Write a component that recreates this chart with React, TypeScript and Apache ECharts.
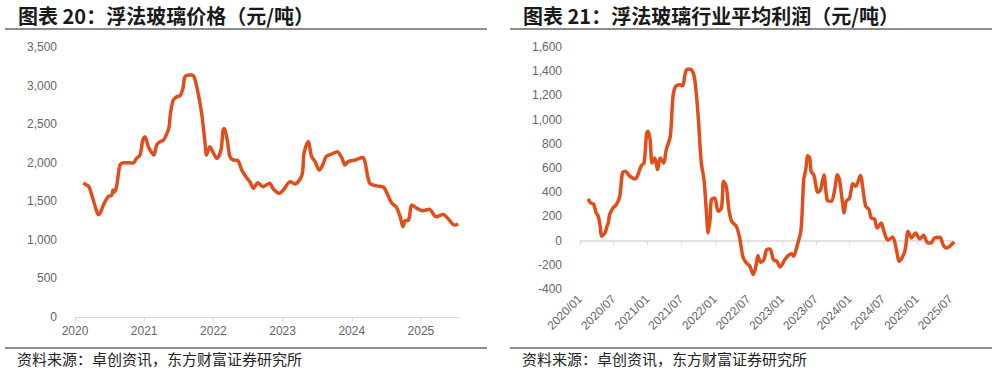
import React, { useEffect, useRef } from "react";
import * as echarts from "echarts";

const leftTitle = "图表 20：浮法玻璃价格（元/吨）";
const rightTitle = "图表 21：浮法玻璃行业平均利润（元/吨）";
const sourceText = "资料来源：卓创资讯，东方财富证券研究所";

// Float glass price (yuan/ton), x in decimal years
const priceX = [
  2020.12, 2020.16, 2020.2, 2020.25, 2020.31, 2020.34, 2020.38, 2020.41, 2020.48, 2020.53,
  2020.55, 2020.57, 2020.6, 2020.65, 2020.7, 2020.78, 2020.84, 2020.89, 2020.94, 2020.98,
  2021.01, 2021.06, 2021.1, 2021.14, 2021.18, 2021.23, 2021.28, 2021.33, 2021.36, 2021.38,
  2021.42, 2021.47, 2021.52, 2021.56, 2021.59, 2021.66, 2021.71, 2021.76, 2021.83, 2021.88,
  2021.9, 2021.95, 2021.99, 2022.05, 2022.11, 2022.14, 2022.16, 2022.2, 2022.24, 2022.29,
  2022.35, 2022.41, 2022.46, 2022.53, 2022.58, 2022.64, 2022.72, 2022.81, 2022.87, 2022.95,
  2023.01, 2023.11, 2023.18, 2023.28, 2023.31, 2023.37, 2023.42, 2023.47, 2023.53, 2023.58,
  2023.63, 2023.71, 2023.79, 2023.86, 2023.9, 2023.95, 2024.05, 2024.16, 2024.19, 2024.26,
  2024.36, 2024.46, 2024.51, 2024.58, 2024.64, 2024.7, 2024.74, 2024.77, 2024.82, 2024.87,
  2024.94, 2025.03, 2025.12, 2025.22, 2025.32, 2025.41, 2025.48, 2025.54,
];
const priceY = [
  1735, 1715, 1690, 1560, 1380, 1325, 1380, 1452, 1560, 1580,
  1646, 1620, 1689, 1970, 2000, 2000, 1995, 2057, 2100, 2294,
  2337, 2207, 2143, 2100, 2230, 2273, 2294, 2381, 2467, 2640,
  2813, 2856, 2870, 2964, 3115, 3137, 3130, 2985, 2640, 2252,
  2100, 2207, 2143, 2057, 2165, 2424, 2445, 2294, 2077, 2035,
  2030, 1906, 1830, 1750, 1668, 1741, 1689, 1733, 1655, 1603,
  1646, 1754, 1725, 1841, 2122, 2273, 2078, 2014, 1906, 1970,
  2078, 2113, 2143, 2057, 1970, 2014, 2035, 2066, 2014, 1733,
  1700, 1682, 1603, 1474, 1430, 1300, 1171, 1248, 1257, 1452,
  1409, 1378, 1396, 1300, 1330, 1257, 1192, 1205,
];

// Float glass industry average profit (yuan/ton)
const profitX = [
  2020.12, 2020.16, 2020.2, 2020.24, 2020.27, 2020.3, 2020.32, 2020.37, 2020.4, 2020.42,
  2020.44, 2020.49, 2020.54, 2020.59, 2020.63, 2020.67, 2020.74, 2020.82, 2020.86, 2020.91,
  2020.95, 2020.99, 2021.01, 2021.04, 2021.07, 2021.11, 2021.15, 2021.19, 2021.24, 2021.28,
  2021.34, 2021.38, 2021.42, 2021.48, 2021.52, 2021.57, 2021.61, 2021.66, 2021.7, 2021.75,
  2021.8, 2021.84, 2021.88, 2021.9, 2021.93, 2021.95, 2022.0, 2022.05, 2022.1, 2022.13,
  2022.17, 2022.21, 2022.25, 2022.32, 2022.37, 2022.42, 2022.47, 2022.52, 2022.57, 2022.61,
  2022.64, 2022.68, 2022.73, 2022.77, 2022.82, 2022.87, 2022.92, 2022.97, 2023.04, 2023.09,
  2023.14, 2023.17, 2023.22, 2023.28, 2023.32, 2023.35, 2023.38, 2023.41, 2023.43, 2023.47,
  2023.53, 2023.57, 2023.62, 2023.67, 2023.73, 2023.78, 2023.82, 2023.85, 2023.89, 2023.92,
  2023.95, 2024.0, 2024.05, 2024.09, 2024.16, 2024.2, 2024.24, 2024.29, 2024.32, 2024.37,
  2024.41, 2024.47, 2024.51, 2024.57, 2024.64, 2024.69, 2024.74, 2024.82, 2024.87, 2024.92,
  2024.98, 2025.04, 2025.1, 2025.16, 2025.21, 2025.26, 2025.34, 2025.39, 2025.44, 2025.5,
  2025.55,
];
const profitY = [
  345, 311, 303, 229, 202, 118, 36, 63, 118, 146,
  215, 270, 298, 366, 559, 573, 532, 510, 546, 620,
  642, 890, 904, 835, 642, 683, 587, 683, 642, 752,
  862, 1193, 1275, 1289, 1280, 1399, 1418, 1408, 1344, 1055,
  642, 504, 202, 63, 174, 339, 352, 242, 270, 490,
  449, 256, 160, 118, 20, -140, -185, -212, -281, -212,
  -124, -179, -157, -74, -69, -157, -171, -218, -157, -124,
  -108, -129, -47, 91, 504, 587, 702, 680, 570, 542,
  399, 421, 542, 333, 325, 421, 545, 504, 339, 229,
  325, 352, 469, 449, 537, 421, 284, 256, 187, 179,
  105, 146, 77, 3, 30, -61, -171, -88, 77, 22,
  63, 14, 44, -19, -19, 22, 28, -36, -61, -41,
  -10,
];

const LINE_COLOR = "#E04E1B";
const AXIS_COLOR = "#d9d9d9";
const LABEL_COLOR = "#666666";

function fmtNum(v: number): string {
  return v.toLocaleString("en-US");
}

function yearLabel(v: number): string {
  if (Math.abs(v - Math.round(v)) > 1e-6) return "";
  return String(Math.round(v));
}

function halfYearLabel(v: number): string {
  const h = v * 2;
  if (Math.abs(h - Math.round(h)) > 1e-6) return "";
  const y = Math.floor(v + 1e-6);
  const m = v - y < 0.25 ? "01" : "07";
  return y + "/" + m;
}

export default function App() {
  const ref = useRef<HTMLDivElement>(null);

  useEffect(() => {
    if (!ref.current) return;
    const chart = echarts.init(ref.current, null, { renderer: "svg" });
    const priceData = priceX.map((x, i) => [x, priceY[i]]);
    const profitData = profitX.map((x, i) => [x, profitY[i]]);
    const labelFont = "Liberation Sans";

    chart.setOption({
      animation: false,
      backgroundColor: "#ffffff",
      grid: [
        { left: 75, top: 47, width: 384, height: 270 },
        { left: 580, top: 47, width: 374, height: 242 },
      ],
      xAxis: [
        {
          gridIndex: 0,
          type: "value",
          min: 2020,
          max: 2025.55,
          interval: 1,
          position: "bottom",
          splitLine: { show: false },
          axisLine: { show: true, lineStyle: { color: AXIS_COLOR, width: 1 } },
          axisTick: { show: true, length: 4, lineStyle: { color: AXIS_COLOR } },
          axisLabel: {
            color: LABEL_COLOR,
            fontSize: 12,
            fontFamily: labelFont,
            margin: 8,
            showMaxLabel: false,
            formatter: yearLabel,
          },
        },
        {
          gridIndex: 1,
          type: "value",
          min: 2020,
          max: 2025.55,
          interval: 0.5,
          position: "bottom",
          splitLine: { show: false },
          axisLine: { show: true, onZero: true, lineStyle: { color: AXIS_COLOR, width: 1.5 } },
          axisTick: { show: true, length: 4, lineStyle: { color: AXIS_COLOR } },
          axisLabel: { show: false },
        },
        {
          gridIndex: 1,
          type: "value",
          min: 2020,
          max: 2025.55,
          interval: 0.5,
          position: "bottom",
          splitLine: { show: false },
          axisLine: { show: false, onZero: false },
          axisTick: { show: false },
          axisLabel: {
            color: LABEL_COLOR,
            fontSize: 12,
            fontFamily: labelFont,
            rotate: 45,
            margin: 8,
            showMaxLabel: false,
            formatter: halfYearLabel,
          },
        },
      ],
      yAxis: [
        {
          gridIndex: 0,
          type: "value",
          min: 0,
          max: 3500,
          interval: 500,
          splitLine: { show: false },
          axisLine: { show: false },
          axisTick: { show: false },
          axisLabel: {
            color: LABEL_COLOR,
            fontSize: 12,
            fontFamily: labelFont,
            margin: 18,
            formatter: fmtNum,
          },
        },
        {
          gridIndex: 1,
          type: "value",
          min: -400,
          max: 1600,
          interval: 200,
          splitLine: { show: false },
          axisLine: { show: false },
          axisTick: { show: false },
          axisLabel: {
            color: LABEL_COLOR,
            fontSize: 12,
            fontFamily: labelFont,
            margin: 18,
            formatter: fmtNum,
          },
        },
      ],
      series: [
        {
          type: "line",
          xAxisIndex: 0,
          yAxisIndex: 0,
          data: priceData,
          showSymbol: false,
          smooth: 0.3,
          lineStyle: { color: LINE_COLOR, width: 3.5 },
          itemStyle: { color: LINE_COLOR },
        },
        {
          type: "line",
          xAxisIndex: 1,
          yAxisIndex: 1,
          data: profitData,
          showSymbol: false,
          smooth: 0.3,
          lineStyle: { color: LINE_COLOR, width: 3.5 },
          itemStyle: { color: LINE_COLOR },
        },
      ],
      graphic: [
        {
          type: "text",
          left: 18,
          top: 5,
          style: {
            text: leftTitle,
            font: 'bold 20px "Noto Sans CJK SC"',
            fill: "#1a1a1a",
          },
        },
        {
          type: "text",
          left: 523,
          top: 5,
          style: {
            text: rightTitle,
            font: 'bold 20px "Noto Sans CJK SC"',
            fill: "#1a1a1a",
          },
        },
        {
          type: "line",
          shape: { x1: 5, y1: 29, x2: 487, y2: 29 },
          style: { stroke: "#8c8c8c", lineWidth: 2 },
        },
        {
          type: "line",
          shape: { x1: 510, y1: 29, x2: 992, y2: 29 },
          style: { stroke: "#8c8c8c", lineWidth: 2 },
        },
        {
          type: "line",
          shape: { x1: 5, y1: 348, x2: 487, y2: 348 },
          style: { stroke: "#8c8c8c", lineWidth: 2 },
        },
        {
          type: "line",
          shape: { x1: 510, y1: 348, x2: 992, y2: 348 },
          style: { stroke: "#8c8c8c", lineWidth: 2 },
        },
        {
          type: "text",
          left: 17,
          top: 351,
          style: {
            text: sourceText,
            font: '15px "Noto Sans CJK SC"',
            fill: "#222222",
          },
        },
        {
          type: "text",
          left: 522,
          top: 351,
          style: {
            text: sourceText,
            font: '15px "Noto Sans CJK SC"',
            fill: "#222222",
          },
        },
      ],
    });

    return () => {
      chart.dispose();
    };
  }, []);

  return (
    <div
      ref={ref}
      style={{ position: "absolute", left: 0, top: 0, width: 997, height: 372, background: "#fff" }}
    />
  );
}
